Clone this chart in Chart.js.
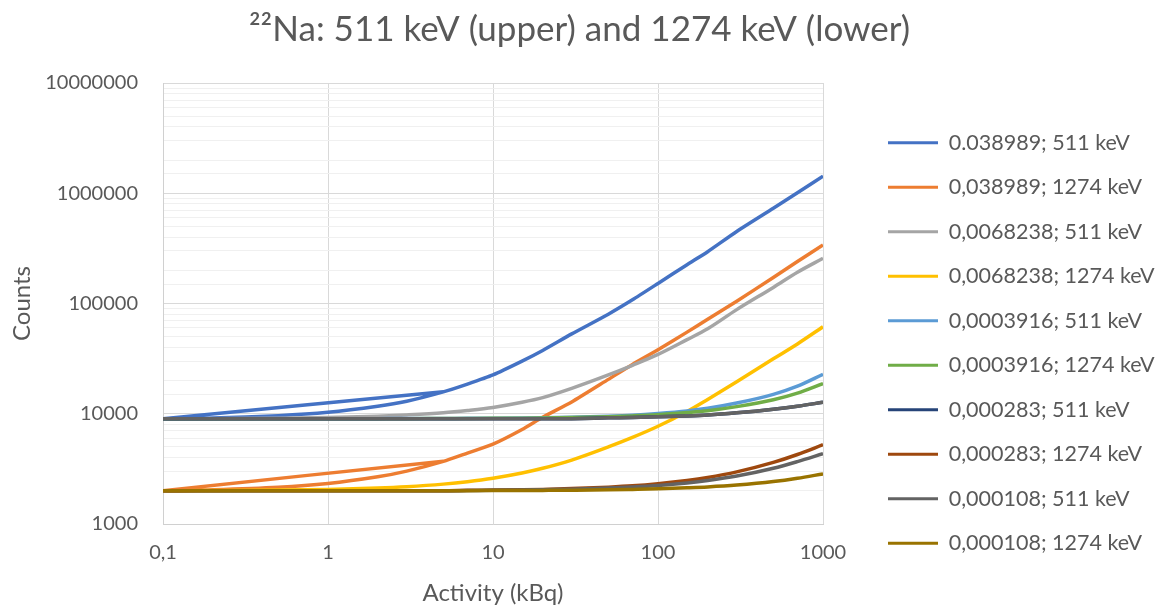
<!DOCTYPE html>
<html><head><meta charset="utf-8">
<script src="https://cdn.jsdelivr.net/npm/chart.js@4.4.1/dist/chart.umd.min.js"></script>
<style>html,body{margin:0;padding:0;background:#fff}#wrap{width:1159px;height:608px;position:relative}</style>
</head><body><div id="wrap"><canvas id="c"></canvas></div>
<script>
// ---- data ----
const activity = [0.1, 0.2, 0.5, 1, 2, 3, 5, 7, 10, 15, 20, 30, 50, 70, 100, 150, 200, 300, 500, 700, 1000];
const seriesLabels = [
  '0.038989; 511 keV', '0,038989; 1274 keV', '0,0068238; 511 keV', '0,0068238; 1274 keV',
  '0,0003916; 511 keV', '0,0003916; 1274 keV', '0,000283; 511 keV', '0,000283; 1274 keV',
  '0,000108; 511 keV', '', '0,000108; 1274 keV'
];
// first (out of order) point of the two looping series
const loopStartX = 5;
const blueLoopStartY = 15800;
const orangeLoopStartY = 3700;
const s0389_511  = [9000, 9150, 9600, 10300, 11700, 13000, 15800, 18600, 22500, 30000, 37500, 53000, 80000, 108000, 152000, 225000, 295000, 450000, 730000, 1010000, 1430000];
const s0389_1274 = [2000, 2040, 2150, 2330, 2680, 3020, 3700, 4400, 5300, 7200, 9300, 12800, 20500, 28000, 38000, 55000, 72000, 105000, 172000, 240000, 340000];
const s0068_511  = [9000, 9030, 9100, 9250, 9500, 9750, 10200, 10700, 11400, 12700, 14000, 17000, 22500, 27500, 34500, 47000, 59000, 88000, 140000, 192000, 257000];
const s0068_1274 = [2000, 2010, 2030, 2060, 2120, 2180, 2300, 2420, 2600, 2900, 3200, 3800, 5000, 6100, 7700, 10500, 13500, 19500, 31500, 43000, 61500];
const s0004_511  = [9000, 9000, 9010, 9020, 9030, 9040, 9060, 9080, 9100, 9150, 9200, 9300, 9500, 9700, 10050, 10600, 11200, 12500, 15000, 17800, 22800];
const s0004_1274 = [9000, 9000, 9005, 9010, 9020, 9030, 9050, 9060, 9080, 9120, 9160, 9240, 9400, 9560, 9800, 10250, 10650, 11600, 13400, 15400, 18800];
const s000283_511  = [9000, 9000, 9000, 9000, 9000, 9000, 9000, 9000, 9000, 9000, 9000, 9030, 9180, 9260, 9370, 9550, 9740, 10200, 11000, 11700, 12700];
const s000283_1274 = [2000, 2000, 2000, 2000, 2000, 2000, 2000, 2020, 2030, 2045, 2060, 2095, 2160, 2220, 2320, 2480, 2640, 2970, 3620, 4270, 5240];
const s000108_511  = [9000, 9000, 9000, 9000, 9000, 9000, 9000, 9000, 9000, 9000, 9000, 9030, 9180, 9260, 9370, 9550, 9740, 10200, 11000, 11700, 12700];
const s000108_lowGrey = [2000, 2000, 2000, 2000, 2000, 2000, 2000, 2010, 2020, 2035, 2050, 2070, 2120, 2170, 2240, 2360, 2480, 2720, 3200, 3680, 4340];
const s000108_1274 = [2000, 2000, 2000, 2000, 2000, 2000, 2000, 2005, 2010, 2015, 2018, 2025, 2040, 2060, 2085, 2130, 2170, 2255, 2425, 2600, 2850];
const xTickPow = [-1, 0, 1, 2, 3];
const yTickPow = [3, 4, 5, 6, 7];

// ---- styles ----
const colors = ['#4472C4', '#ED7D31', '#A5A5A5', '#FFC000', '#5B9BD5', '#70AD47', '#264478', '#9E480E', '#636363', '#636363', '#997300'];
const valuesList = [s0389_511, s0389_1274, s0068_511, s0068_1274, s0004_511, s0004_1274, s000283_511, s000283_1274, s000108_511, s000108_lowGrey, s000108_1274];
const loopStarts = {0: blueLoopStartY, 1: orangeLoopStartY};

function pointsFor(i) {
  const pts = activity.map((x, k) => ({x: x, y: valuesList[i][k]}));
  if (loopStarts[i] !== undefined) pts.unshift({x: loopStartX, y: loopStarts[i]});
  return pts;
}
const datasets = valuesList.map((v, i) => {
  const isLoop = loopStarts[i] !== undefined;
  return {
    label: seriesLabels[i],
    data: pointsFor(i),
    borderColor: colors[i],
    backgroundColor: colors[i],
    borderWidth: 3.5,
    pointRadius: 0,
    tension: isLoop ? 0.2 : 0,
    cubicInterpolationMode: isLoop ? 'default' : 'monotone',
    fill: false,
    order: -i,
    xAxisID: 'x',
    yAxisID: 'y'
  };
});

function pow10(v) {
  const l = Math.log10(v);
  const r = Math.round(l);
  return Math.abs(l - r) < 1e-9 ? r : null;
}

Chart.defaults.font.family = 'Lato, "Open Sans", sans-serif';
Chart.defaults.color = '#595959';

new Chart(document.getElementById('c'), {
  type: 'line',
  data: {datasets: datasets},
  options: {
    responsive: true,
    maintainAspectRatio: false,
    animation: false,
    layout: {padding: 0},
    plugins: {
      tooltip: {enabled: false},
      title: {
        display: true,
        text: '²²Na: 511 keV (upper) and 1274 keV (lower)',
        font: {size: 35, weight: 'normal', lineHeight: 1.2},
        color: '#595959',
        padding: {top: 9, bottom: 32}
      },
      legend: {
        position: 'right',
        align: 'start',
        maxWidth: 294,
        title: {display: true, text: ' ', font: {size: 10, lineHeight: 1}, padding: {top: 50, bottom: 49}, color: 'rgba(0,0,0,0)'},
        labels: {
          boxWidth: 50,
          boxHeight: 3,
          padding: 23,
          font: {size: 21.5},
          color: '#595959',
          filter: (item) => item.text !== '',
          sort: (a, b) => a.datasetIndex - b.datasetIndex,
          generateLabels: (chart) => {
            const items = Chart.defaults.plugins.legend.labels.generateLabels(chart);
            items.forEach(it => { it.lineWidth = 0; it.fillStyle = it.strokeStyle; });
            return items;
          }
        }
      }
    },
    scales: {
      x: {
        type: 'logarithmic',
        position: 'bottom',
        min: 0.1,
        max: 1000,
        afterFit: (s) => { s.height = 84; },
        grid: {
          drawTicks: false,
          color: (c) => (c.tick && pow10(c.tick.value) !== null) ? '#d9d9d9' : 'rgba(0,0,0,0)',
          lineWidth: 1
        },
        border: {display: true, color: '#d0d0d0', width: 1},
        ticks: {
          autoSkip: false,
          maxRotation: 0,
          padding: 17,
          font: {size: 20},
          color: '#595959',
          callback: (v) => {
            const p = pow10(v);
            if (p === null || !xTickPow.includes(p)) return '';
            return p < 0 ? '0,1' : String(Math.pow(10, p));
          }
        },
        title: {display: true, text: 'Activity (kBq)', font: {size: 24}, color: '#595959', padding: 0}
      },
      y: {
        type: 'logarithmic',
        position: 'left',
        min: 1000,
        max: 10000000,
        afterFit: (s) => { s.width = 163; },
        grid: {
          drawTicks: false,
          color: (c) => (c.tick && pow10(c.tick.value) !== null) ? '#d9d9d9' : '#f0f0f0',
          lineWidth: 1
        },
        border: {display: true, color: '#d0d0d0', width: 1},
        ticks: {
          autoSkip: false,
          padding: 25,
          font: {size: 20},
          color: '#595959',
          callback: (v) => {
            const p = pow10(v);
            if (p === null || !yTickPow.includes(p)) return '';
            return String(Math.pow(10, p));
          }
        },
        title: {display: true, text: 'Counts', font: {size: 24}, color: '#595959', padding: {top: 8, bottom: 0}}
      },
      pad: {
        type: 'linear',
        position: 'right',
        display: true,
        grid: {display: false},
        ticks: {display: false},
        border: {display: false},
        afterFit: (s) => { s.width = 42; }
      }
    }
  }
});
</script>
</body></html>
